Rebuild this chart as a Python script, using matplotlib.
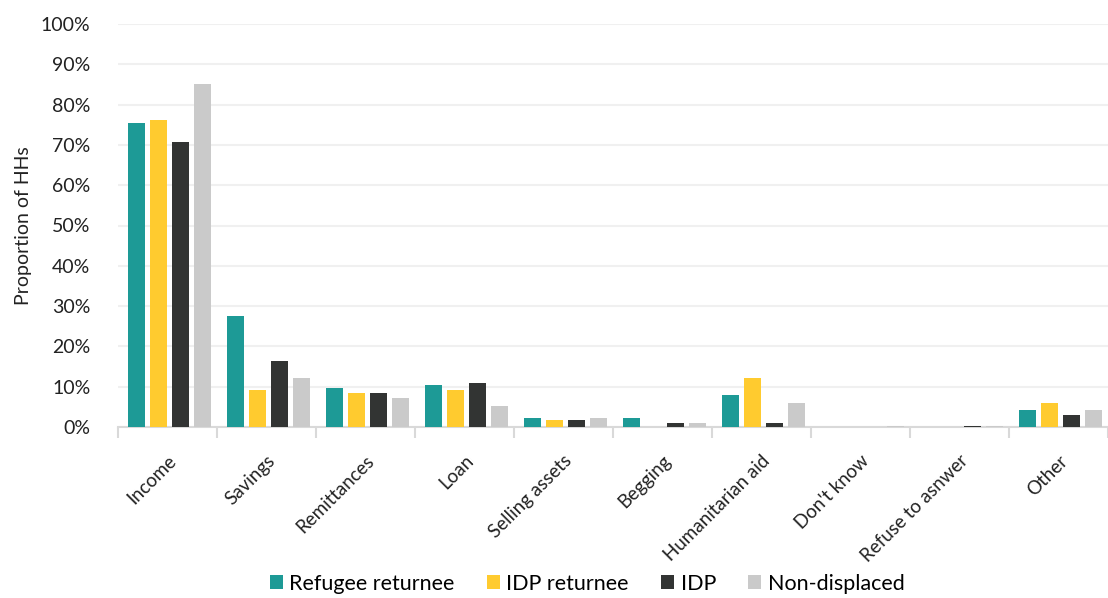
import matplotlib.pyplot as plt
import numpy as np

plt.rcParams['font.family'] = ['Lato', 'DejaVu Sans']

categories = ["Income", "Savings", "Remittances", "Loan", "Selling assets", "Begging",
              "Humanitarian aid", "Don't know", "Refuse to asnwer", "Other"]
refugee_returnee = [75.5, 27.5, 9.6, 10.3, 2.3, 2.3, 7.9, 0.0, 0.0, 4.1]
idp_returnee = [76.2, 9.1, 8.4, 9.1, 1.7, 0.1, 12.2, 0.0, 0.1, 6.0]
idp = [70.6, 16.4, 8.4, 10.8, 1.7, 1.1, 1.1, 0.0, 0.3, 3.0]
non_displaced = [85.2, 12.1, 7.2, 5.3, 2.3, 1.0, 6.0, 0.2, 0.2, 4.1]

series = [("Refugee returnee", refugee_returnee, "#1d9a96"),
          ("IDP returnee", idp_returnee, "#ffcb2f"),
          ("IDP", idp, "#323433"),
          ("Non-displaced", non_displaced, "#cacaca")]

fig = plt.figure(figsize=(11.08, 5.98), dpi=100)
ax = fig.add_axes([118 / 1108, 1 - 427 / 598, 1 - 118 / 1108, (427 - 24) / 598])

x = np.arange(len(categories))
slot = 0.225
width = 0.172
for i, (name, vals, color) in enumerate(series):
    ax.bar(x + 0.02 + (i - 1.5) * slot, vals, width, color=color, label=name, zorder=3)

ax.set_xlim(-0.5, len(categories) - 0.5)
ax.set_ylim(0, 100)
ax.set_yticks(np.arange(0, 101, 10))
ax.set_yticklabels([f"{v}%" for v in range(0, 101, 10)], fontsize=14, color="#222222")
ax.yaxis.grid(True, color="#f0f0f0", linewidth=1.5, zorder=0)
ax.tick_params(axis="y", length=0, pad=20)

ax.set_xticks(x)
ax.set_xticklabels(categories, rotation=45, ha="right", rotation_mode="anchor",
                   fontsize=13.5, color="#222222")
ax.set_xticks(np.arange(-0.5, len(categories), 1), minor=True)
ax.tick_params(axis="x", which="major", length=0, pad=18)
ax.tick_params(axis="x", which="minor", length=8, width=1.5, color="#d9d9d9")

for side in ["left", "right", "top"]:
    ax.spines[side].set_visible(False)
ax.spines["bottom"].set_color("#d9d9d9")
ax.spines["bottom"].set_linewidth(1.5)

ax.set_ylabel("Proportion of HHs", fontsize=14, color="#222222", labelpad=6)

fig.legend(loc="lower center", bbox_to_anchor=(0.53, -0.025), ncol=4, frameon=False,
           fontsize=15.5, handlelength=0.6, handleheight=0.6, handletextpad=0.3,
           columnspacing=1.5)

fig.savefig("out.png", dpi=100)
